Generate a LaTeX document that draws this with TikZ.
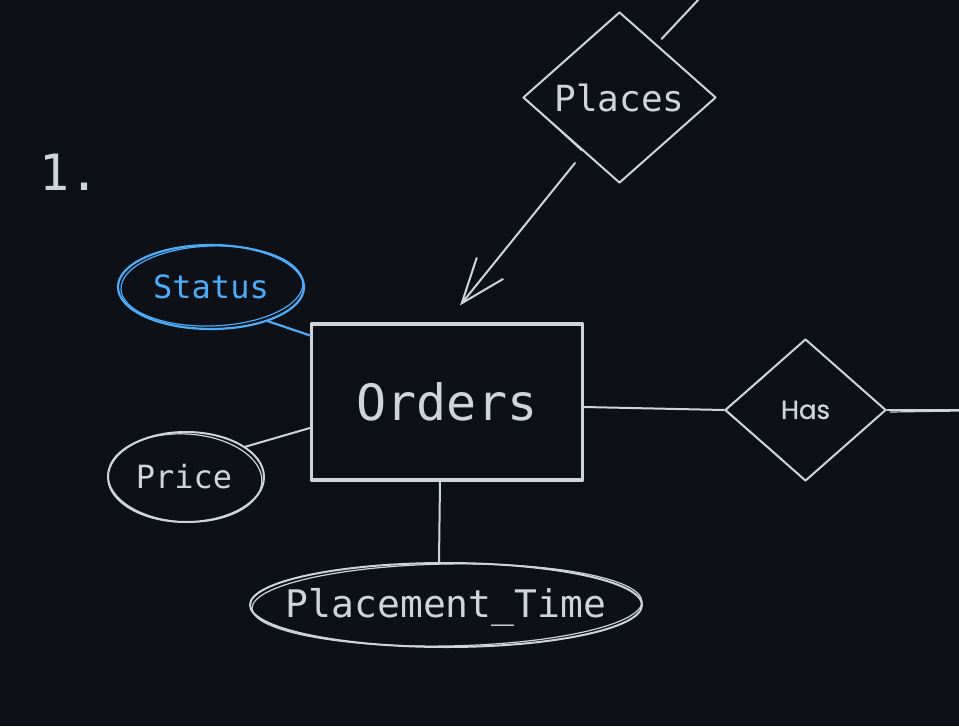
\documentclass[tikz,border=0pt]{standalone}
\usepackage{fontspec}
\usetikzlibrary{shapes.geometric,arrows.meta,calc}
\newfontfamily\monof{DejaVu Sans Mono}
\newfontfamily\handf{Poppins}[FakeBold=0.8]
\definecolor{ink}{RGB}{206,212,218}
\definecolor{bluink}{RGB}{77,171,247}
\definecolor{bg}{RGB}{13,17,23}

\begin{document}
\begin{tikzpicture}[x=1pt, y=-1pt, line cap=round, line join=round,
  edge/.style={draw=ink, line width=2pt},
  attr/.style={ellipse, draw=ink, line width=2pt, inner sep=0pt},
  label/.style={text=ink, inner sep=0pt},
  rel/.style={diamond, draw=ink, line width=2pt, inner sep=0pt, text=ink},
  entity/.style={rectangle, draw=ink, line width=3.2pt, inner sep=0pt, text=ink},
  sketch/.style={draw=ink, line width=1.2pt}]

% canvas
\fill[bg] (0,0) rectangle (959,726);
\useasboundingbox (0,0) rectangle (959,726);

% step number
\node[label, font=\monof\fontsize{50}{50}\selectfont] (num) at (70,172) {1.};

% entity
\node[entity, minimum width=271pt, minimum height=156pt,
      font=\monof\fontsize{50}{50}\selectfont] (or) at (447,402) {Orders};

% relationships
\node[rel, minimum width=193pt, minimum height=171pt,
      font=\monof\fontsize{36}{36}\selectfont] (pl) at (619.5,97.5) {Places};
\node[rel, minimum width=161pt, minimum height=142pt,
      font=\handf\fontsize{26}{26}\selectfont] (has) at (805.5,410) {Has};

% attributes: outline and name
\node[attr, draw=bluink, line width=2.2pt, minimum width=186pt, minimum height=84pt] (st) at (211,287) {};
\node[label, text=bluink, font=\monof\fontsize{32}{32}\selectfont] (stT) at (st.center) {Status};
\node[attr, minimum width=156pt, minimum height=90pt] (pr) at (186,477) {};
\node[label, font=\monof\fontsize{32}{32}\selectfont] (prT) at ($(pr.center)+(-2,0)$) {Price};
\node[attr, minimum width=392pt, minimum height=84pt] (pt) at (446,605) {};
\node[label, font=\monof\fontsize{38}{38}\selectfont, anchor=base] (ptT) at ($(pt.center)+(0,12)$) {Placement\_Time};

% second pencil strokes
\draw[draw=bluink, line width=1.2pt, rotate around={2:(st.center)}]
  ($(st.center)+(1,-1)$) ellipse [x radius=91, y radius=40];
\draw[sketch, rotate around={-3:(pr.center)}]
  ($(pr.center)+(-1,1)$) ellipse [x radius=77, y radius=44];
\draw[sketch, rotate around={1:(pt.center)}]
  ($(pt.center)+(1,0)$) ellipse [x radius=195, y radius=41];
\draw[sketch] ($(pl.west)+(3,1)$) -- ($(pl.west)!0.6!(pl.south)+(1,1)$);
\draw[sketch] ($(has.west)+(2,-1)$) -- ($(has.west)!0.5!(has.north)+(1,1)$);
\draw[sketch] ($(has.west)+(2,1)$) -- ($(has.west)!0.7!(has.south)+(1,-1)$);

% connector ends
\coordinate (arA) at ($(pl.south)+(-44.5,-21)$);
\coordinate (arB) at ($(or.north)+(13,-17)$);
\coordinate (plA) at ($(pl.north)+(42,28)$);
\coordinate (plT) at (699,-1);
\coordinate (hasR) at (960,410);

% connectors
\draw[edge, -{Straight Barb[length=45pt, width=34pt]}] (arA) -- (arB);
\draw[edge] (plA) -- (plT);
\draw[draw=bluink, line width=2.2pt] (st.-31) -- ($(or.north west)+(0,13)$);
\draw[edge] (pr.27) -- ($(or.west)+(0,26)$);
\draw[edge] ([xshift=-7pt]or.south) -- ([xshift=-7pt]pt.north);
\draw[edge] ($(or.east)+(0,5)$) -- (has.west);
\draw[edge] (has.east) -- (hasR);
\draw[sketch] ($(has.east)+(3,2)$) -- ($(hasR)+(0,1)$);
\end{tikzpicture}
\end{document}
